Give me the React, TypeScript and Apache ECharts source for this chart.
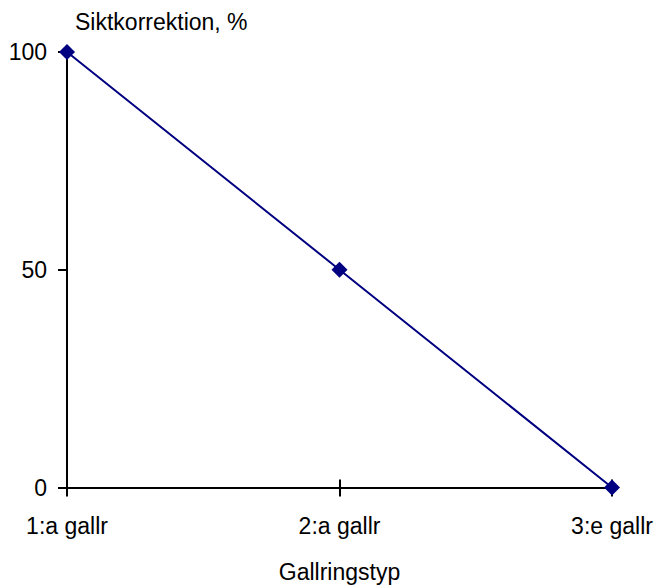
import React, { useEffect, useRef } from "react";
import * as echarts from "echarts";

const categories = ["1:a gallr", "2:a gallr", "3:e gallr"];
const values = [100, 50, 0];
const yTicks = { min: 0, max: 100, interval: 50 };
const yTitle = "Siktkorrektion, %";
const xTitle = "Gallringstyp";

const FONT = "'Liberation Sans', Arial, sans-serif";
const FS = 23;

export default function App() {
  const ref = useRef<HTMLDivElement>(null);
  useEffect(() => {
    if (!ref.current) return;
    const chart = echarts.init(ref.current, undefined, { renderer: "svg" });
    chart.setOption({
      animation: false,
      backgroundColor: "#ffffff",
      textStyle: { fontFamily: FONT },
      grid: { left: 67, right: 45, top: 52, bottom: 95, containLabel: false },
      xAxis: [
        {
          type: "category",
          data: categories,
          boundaryGap: false,
          position: "bottom",
          name: xTitle,
          nameLocation: "middle",
          nameGap: 84,
          nameTextStyle: { fontFamily: FONT, fontSize: FS, color: "#000", verticalAlign: "middle" },
          axisLine: { show: true, lineStyle: { color: "#000", width: 2 } },
          axisTick: { show: true, inside: false, length: 9, alignWithLabel: true, lineStyle: { color: "#000", width: 2 } },
          axisLabel: { show: true, margin: 27, fontFamily: FONT, fontSize: FS, color: "#000" },
          splitLine: { show: false },
        },
        {
          type: "category",
          data: categories,
          boundaryGap: false,
          position: "bottom",
          axisLine: { show: false },
          axisTick: { show: true, inside: true, length: 8, lineStyle: { color: "#000", width: 2 } },
          axisLabel: { show: false },
          splitLine: { show: false },
        },
      ],
      yAxis: {
        type: "value",
        min: yTicks.min,
        max: yTicks.max,
        interval: yTicks.interval,
        name: yTitle,
        nameLocation: "end",
        nameGap: 30,
        nameTextStyle: { fontFamily: FONT, fontSize: FS, color: "#000", align: "left", verticalAlign: "middle", padding: [0, 0, 0, 8] },
        axisLine: { show: true, lineStyle: { color: "#000", width: 2 } },
        axisTick: { show: true, inside: false, length: 9, lineStyle: { color: "#000", width: 2 } },
        axisLabel: { show: true, margin: 20, fontFamily: FONT, fontSize: FS, color: "#000" },
        splitLine: { show: false },
      },
      series: [
        {
          type: "line",
          xAxisIndex: 0,
          data: values,
          symbol: "diamond",
          symbolSize: 16,
          lineStyle: { color: "#000080", width: 2 },
          itemStyle: { color: "#000080" },
          z: 5,
        },
      ],
    });
    return () => chart.dispose();
  }, []);
  return (
    <div
      ref={ref}
      style={{ position: "absolute", left: 0, top: 0, width: 657, height: 588, background: "#fff" }}
    />
  );
}
